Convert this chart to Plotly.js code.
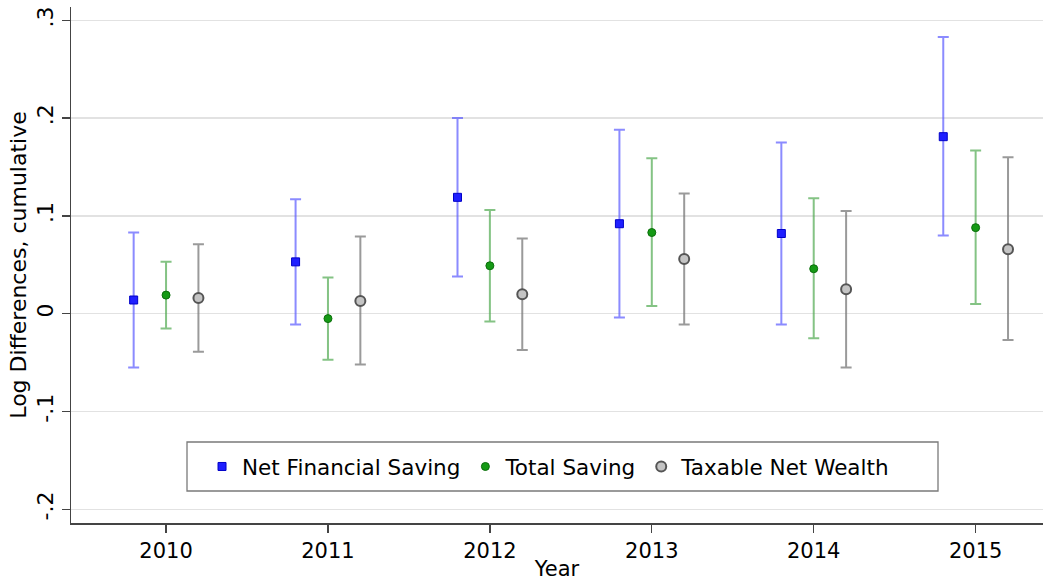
<!DOCTYPE html>
<html>
<head>
<meta charset="utf-8">
<script src="https://cdn.plot.ly/plotly-3.0.1.min.js"></script>
<style>
html,body{margin:0;padding:0;background:#fff;}
#chart{width:1043px;height:581px;}
</style>
</head>
<body>
<div id="chart"></div>
<script>
// ---- data ----
const years = [2010, 2011, 2012, 2013, 2014, 2015];

const nfsEst = [0.014, 0.053, 0.119, 0.092, 0.082, 0.181];
const nfsLo  = [-0.055, -0.011, 0.038, -0.004, -0.011, 0.080];
const nfsHi  = [0.083, 0.117, 0.200, 0.188, 0.175, 0.283];

const tsEst = [0.019, -0.005, 0.049, 0.083, 0.046, 0.088];
const tsLo  = [-0.015, -0.047, -0.008, 0.008, -0.025, 0.010];
const tsHi  = [0.053, 0.037, 0.106, 0.159, 0.118, 0.167];

const tnwEst = [0.016, 0.013, 0.020, 0.056, 0.025, 0.066];
const tnwLo  = [-0.039, -0.052, -0.037, -0.011, -0.055, -0.027];
const tnwHi  = [0.071, 0.079, 0.077, 0.123, 0.105, 0.160];

const seriesNames = ["Net Financial Saving", "Total Saving", "Taxable Net Wealth"];
const yTickVals = [-0.2, -0.1, 0, 0.1, 0.2, 0.3];
const yTickText = ["-.2", "-.1", "0", ".1", ".2", ".3"];
const xTickVals = years;
const xTickText = ["2010", "2011", "2012", "2013", "2014", "2015"];

// ---- build ----
function mk(name, est, lo, hi, offset, marker, ecolor) {
  return {
    type: "scatter",
    mode: "markers",
    name: name,
    x: years.map(v => v + offset),
    y: est,
    marker: marker,
    error_y: {
      type: "data",
      symmetric: false,
      array: hi.map((h, i) => h - est[i]),
      arrayminus: lo.map((l, i) => est[i] - l),
      color: ecolor,
      thickness: 2,
      width: 5.5
    },
    hoverinfo: "x+y"
  };
}

const traces = [
  mk(seriesNames[0], nfsEst, nfsLo, nfsHi, -0.2,
     {symbol: "square", size: 8, color: "#1f1fff", line: {color: "#0000c8", width: 1}},
     "rgba(90,90,255,0.7)"),
  mk(seriesNames[1], tsEst, tsLo, tsHi, 0,
     {symbol: "circle", size: 8, color: "#159a15", line: {color: "#0b6e0b", width: 1}},
     "rgba(80,170,80,0.7)"),
  mk(seriesNames[2], tnwEst, tnwLo, tnwHi, 0.2,
     {symbol: "circle", size: 10, color: "#c4c4c4", line: {color: "#555555", width: 2}},
     "rgba(120,120,120,0.75)")
];

const font = {family: "DejaVu Sans, Verdana, sans-serif", color: "#000"};
const fs = 22;

const layout = {
  width: 1043,
  height: 581,
  margin: {l: 71, r: 0, t: 7, b: 58},
  paper_bgcolor: "#fff",
  plot_bgcolor: "#fff",
  font: Object.assign({size: fs}, font),
  showlegend: true,
  legend: {
    orientation: "h",
    x: 0.1348, xanchor: "left",
    y: 0.1095, yanchor: "middle",
    bgcolor: "rgba(0,0,0,0)",
    borderwidth: 0,
    font: Object.assign({size: 21.5}, font),
    itemclick: false
  },
  xaxis: {
    range: [2009.413, 2015.416],
    tickvals: xTickVals,
    ticktext: xTickText,
    ticks: "outside",
    ticklen: 8,
    tickwidth: 1.3,
    tickcolor: "#444",
    showline: true,
    linecolor: "#444",
    linewidth: 1.5,
    showgrid: false,
    zeroline: false,
    tickfont: Object.assign({size: 21}, font),
    title: {text: "Year", font: Object.assign({size: 21}, font), standoff: 4}
  },
  yaxis: {
    range: [-0.214, 0.3136],
    tickvals: yTickVals,
    ticktext: yTickText,
    tickangle: -90,
    ticks: "outside",
    ticklen: 8,
    tickwidth: 1.3,
    tickcolor: "#444",
    showline: true,
    linecolor: "#444",
    linewidth: 1.5,
    showgrid: true,
    gridcolor: "#e2e2e2",
    gridwidth: 1.5,
    zeroline: false,
    tickfont: Object.assign({size: fs}, font),
    title: {text: "Log Differences, cumulative", font: Object.assign({size: fs}, font), standoff: 0}
  },
  shapes: [{
    type: "rect", xref: "paper", yref: "paper",
    x0: (187 - 71) / 972, x1: (938 - 71) / 972,
    y0: (523 - 491) / 516, y1: (523 - 442) / 516,
    line: {color: "#7a7a7a", width: 1.3},
    fillcolor: "#ffffff",
    layer: "below"
  }]
};

Plotly.newPlot("chart", traces, layout, {displayModeBar: false, staticPlot: true});
</script>
</body>
</html>
